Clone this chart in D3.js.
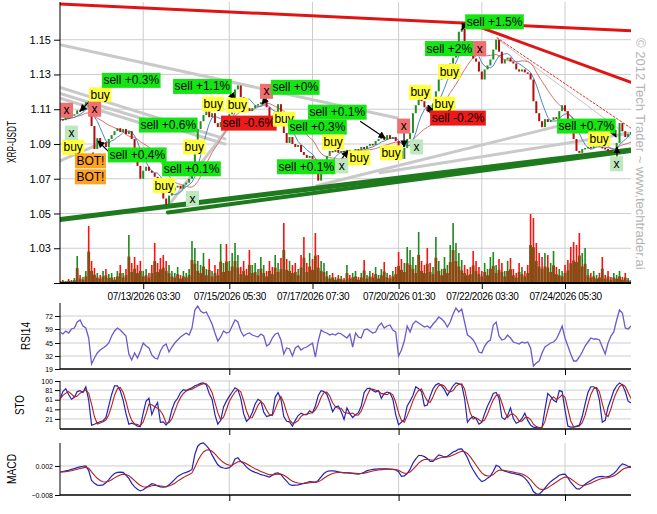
<!DOCTYPE html>
<html><head><meta charset="utf-8">
<script src="https://cdnjs.cloudflare.com/ajax/libs/d3/7.8.5/d3.min.js"></script>
<style>body{margin:0;background:#fff;} svg{display:block;font-family:"Liberation Sans",Arial,sans-serif;}</style>
</head><body><svg id="c" width="657" height="514"></svg>
<script>
// ---------- DATA ----------
const closes = [
1.1043,1.1037,1.1054,1.1049,1.1066,1.1071,1.1094,1.1089,1.1123,1.1140,
1.1111,1.1003,1.0871,1.0934,1.0900,1.0911,1.0883,1.0929,1.0951,1.0974,
1.0991,1.0969,1.0986,1.0957,1.0974,1.0929,1.0860,1.0774,1.0700,1.0746,
1.0769,1.0746,1.0734,1.0711,1.0689,1.0631,1.0586,1.0551,1.0603,1.0631,
1.0649,1.0660,1.0643,1.0666,1.0677,1.0700,1.0734,1.0860,1.0986,1.1031,
1.1066,1.1100,1.1054,1.1077,1.1020,1.0997,1.1026,1.1043,1.1031,1.1071,
1.1100,1.1214,1.1237,1.1169,1.1134,1.1106,1.1089,1.1106,1.1123,1.1129,
1.1140,1.1146,1.1111,1.1043,1.1009,1.1077,1.1129,1.1077,1.0963,1.0906,
1.0940,1.0900,1.0883,1.0894,1.0854,1.0837,1.0820,1.0831,1.0814,1.0746,
1.0689,1.0757,1.0791,1.0831,1.0860,1.0854,1.0866,1.0849,1.0860,1.0854,
1.0866,1.0854,1.0860,1.0871,1.0860,1.0883,1.0871,1.0889,1.0900,1.0894,
1.0917,1.0929,1.0940,1.0923,1.0951,1.0929,1.0940,1.0917,1.0860,1.0814,
1.0877,1.0929,1.0963,1.1077,1.1123,1.1163,1.1146,1.1111,1.1089,1.1077,
1.1134,1.1203,1.1271,1.1317,1.1329,1.1340,1.1363,1.1397,1.1466,1.1546,
1.1563,1.1489,1.1443,1.1409,1.1392,1.1374,1.1317,1.1271,1.1329,1.1352,
1.1386,1.1443,1.1500,1.1431,1.1363,1.1386,1.1397,1.1374,1.1363,1.1329,
1.1317,1.1329,1.1312,1.1306,1.1271,1.1146,1.1077,1.1031,1.0997,1.1043,
1.1026,1.1037,1.1054,1.1043,1.1089,1.1123,1.1089,1.1043,1.0997,1.0929,
1.0860,1.0849,1.0871,1.0877,1.0883,1.0877,1.0889,1.0894,1.0883,1.0877,
1.0871,1.0860,1.0854,1.0860,1.0906,1.1020,1.0974,1.0940,1.0957,1.0969];

const volumes = [
2,3,2,4,3,5,27,8,6,12, 57,22,15,10,8,12,14,9,10,6,
12,18,10,14,48,20,26,18,22,12, 14,10,18,40,20,25,28,22,18,12,
10,16,8,12,10,14,42,35,22,18, 30,14,24,12,18,14,39,20,39,22,
30,40,28,16,22,14,33,18,20,14, 26,18,12,22,16,28,20,25,60,24,
22,18,20,14,28,46,20,30,24,50, 28,22,20,12,8,10,6,8,7,5,
18,8,10,12,6,10,23,8,12,10, 16,8,14,21,10,8,12,16,31,24,
20,36,33,26,18,51,22,18,35,20, 16,46,22,14,26,18,38,60,40,30,
23,18,14,16,32,22,16,12,20,14, 26,31,18,24,20,12,22,25,14,10,
20,16,12,18,69,65,40,30,26,30, 28,20,32,16,14,12,18,23,36,41,
38,50,30,35,14,10,12,8,10,26, 8,12,6,10,8,12,6,10,5,3];

const rsi = [
56,54,57,55,59,60,66,68,62,60, 50,24,30,35,38,40,42,45,52,57,
60,58,55,52,34,28,35,30,37,45, 42,40,33,30,29,37,42,44,36,41,
45,48,51,53,55,53,60,78,82,77, 75,76,70,64,55,47,51,57,55,56,
62,68,66,57,52,54,55,53,52,51, 54,52,42,44,50,54,55,48,34,40,
39,32,40,42,38,40,41,43,45,31, 47,58,56,55,53,54,53,55,54,52,
50,54,41,55,51,50,58,59,57,55, 56,62,65,60,62,63,58,56,32,38,
47,62,56,64,67,65,63,61,62,60, 64,67,71,69,66,61,66,74,80,76,
79,66,53,51,48,43,36,35,42,46, 48,63,66,52,48,49,53,50,46,45,
44,46,45,46,40,22,25,27,35,41, 43,45,46,49,55,62,50,42,34,27,
27,31,36,42,46,50,49,49,48,41, 34,45,52,56,68,78,75,60,59,62];

const stoK = [
62,78,84,72,62,66,78,80,76,88, 60,8,10,13,15,17,24,48,72,90,
90,80,60,32,10,12,10,6,5,33, 58,64,30,45,55,14,15,8,16,40,
56,64,76,82,80,83,86,90,92,95, 96,92,74,62,30,10,18,46,58,68,
77,86,82,64,32,16,22,34,52,62, 58,35,26,28,30,66,76,62,26,16,
15,6,18,28,33,30,30,38,34,48, 70,80,78,72,56,36,46,48,36,20,
44,32,24,30,34,48,76,84,85,80, 77,80,64,74,77,75,62,30,9,14,
20,48,58,70,88,84,78,48,50,68, 84,92,95,90,82,70,80,90,96,94,
92,64,14,22,26,22,10,14,32,48, 60,74,76,64,24,20,28,44,22,12,
15,22,33,18,8,4,3,2,4,40, 74,68,60,56,80,78,40,6,4,4,
6,8,26,52,76,88,88,84,60,14, 18,46,62,80,90,96,92,78,58,54];

const macd = [
-0.0001,0.0001,0.0003,0.0005,0.0008,0.0011,0.0014,0.0017,0.0019,0.0020,
0.0004,-0.0030,-0.0040,-0.0046,-0.0047,-0.0045,-0.0038,-0.0027,-0.0015,-0.0006,
-0.0002,-0.0001,-0.0002,-0.0012,-0.0023,-0.0040,-0.0052,-0.0060,-0.0066,-0.0062,
-0.0055,-0.0048,-0.0041,-0.0043,-0.0049,-0.0052,-0.0053,-0.0052,-0.0045,-0.0036,
-0.0026,-0.0016,-0.0010,-0.0005,-0.0002,0.0002,0.0008,0.0060,0.0088,0.0097,
0.0099,0.0090,0.0078,0.0058,0.0040,0.0024,0.0016,0.0013,0.0012,0.0014,
0.0022,0.0044,0.0048,0.0036,0.0028,0.0016,0.0008,0.0002,-0.0002,-0.0005,
-0.0010,-0.0012,-0.0015,-0.0018,-0.0012,-0.0005,-0.0004,-0.0010,-0.0022,-0.0032,
-0.0044,-0.0047,-0.0046,-0.0045,-0.0043,-0.0040,-0.0037,-0.0034,-0.0035,-0.0036,
-0.0030,-0.0018,-0.0006,0.0001,0.0003,0.0003,0.0002,0.0000,-0.0002,-0.0004,
-0.0004,-0.0005,-0.0006,-0.0007,-0.0008,-0.0006,-0.0002,0.0004,0.0006,0.0008,
0.0009,0.0010,0.0010,0.0010,0.0010,0.0009,0.0008,0.0006,0.0000,-0.0016,
-0.0014,-0.0006,0.0008,0.0030,0.0044,0.0056,0.0056,0.0052,0.0046,0.0036,
0.0036,0.0048,0.0058,0.0055,0.0051,0.0053,0.0060,0.0068,0.0072,0.0078,
0.0079,0.0066,0.0048,0.0024,0.0006,-0.0010,-0.0024,-0.0034,-0.0030,-0.0022,
-0.0015,0.0002,0.0022,0.0018,0.0006,0.0002,-0.0001,-0.0004,-0.0006,-0.0008,
-0.0010,-0.0014,-0.0022,-0.0033,-0.0048,-0.0068,-0.0076,-0.0077,-0.0068,-0.0056,
-0.0044,-0.0034,-0.0027,-0.0020,-0.0012,-0.0009,-0.0008,-0.0020,-0.0036,-0.0048,
-0.0058,-0.0060,-0.0052,-0.0043,-0.0036,-0.0030,-0.0024,-0.0019,-0.0017,-0.0016,
-0.0018,-0.0017,-0.0012,-0.0006,0.0004,0.0018,0.0027,0.0024,0.0019,0.0017];

const timeTicks = [29, 59, 88, 118, 147, 176];
const timeLabels = ["07/13/2026 03:30","07/15/2026 05:30","07/17/2026 07:30","07/20/2026 01:30","07/22/2026 03:30","07/24/2026 05:30"];
const subTicks = [59, 118, 176];
const priceTicks = [1.01,1.03,1.05,1.07,1.09,1.11,1.13,1.15];
const rsiTicks = [19,32,45,59,72];
const stoTicks = [21,41,61,81,100];
const macdTicks = [-0.008,0.002];

// trend lines: [i1, p1, i2, p2, kind]
const trendLines = [
 [0,1.1471,117.5,1.1049,"gray"],
 [0,1.1226,57.5,1.0929,"gray"],
 [0,1.1191,57.5,1.0900,"gray"],
 [0,1.1163,34.9,1.0986,"gray"],
 [0,1.0803,12.2,1.0889,"gray"],
 [38.3,1.0557,61,1.1043,"gray"],
 [89.5,1.0660,177.8,1.1020,"gray"],
 [111.5,1.0734,199,1.0963,"gray"],
 [152.3,1.1506,199,1.0934,"thin"],
 [152.3,1.1511,199,1.0991,"dash"],
 [0,1.1706,199,1.1551,"red"],
 [142.2,1.1597,199,1.1254,"red"],
 [0,1.0466,199,1.0866,"green"],
 [37.6,1.0506,199,1.0860,"green2"]
];

// signal boxes: [text, kind, index(left), price(center)]
const signals = [
 ["x","xr",0,1.1094],["x","xg",1.7,1.0963],["buy","buy",0.7,1.0880],
 ["buy","buy",10.1,1.1183],["sell +0.3%","sp",14.6,1.1266],["x","xr",9.8,1.1100],
 ["BOT!","bot",5.2,1.0803],["BOT!","bot",5.2,1.0711],["sell +0.4%","sp",16.7,1.0837],
 ["sell +0.6%","sp",27.5,1.1009],["buy","buy",42.9,1.0883],["sell +0.1%","sp",35.6,1.0757],
 ["buy","buy",32.4,1.0660],["x","xg",43.9,1.0586],["sell +1.1%","sp",39.4,1.1231],
 ["buy","buy",49.5,1.1129],["buy","buy",57.9,1.1123],["sell -0.6%","sm",56.1,1.1020],
 ["x","xr",69.7,1.1203],["sell +0%","sp",73.5,1.1226],["buy","buy",74.2,1.1043],
 ["sell +0.3%","sp",79.5,1.0997],["sell +0.1%","sp",86.4,1.1083],["buy","buy",91.3,1.0911],
 ["sell +0.1%","sp",75.6,1.0769],["x","xg",95.9,1.0774],["buy","buy",100.4,1.0820],
 ["buy","buy",111.5,1.0849],["x","xr",117.5,1.1003],["x","xg",122,1.0883],
 ["buy","buy",121.6,1.1197],["buy","buy",131.8,1.1317],["buy","buy",130,1.1129],
 ["sell -0.2%","sm",129,1.1049],["sell +2%","sp",127.2,1.1449],["x","xr",144,1.1449],
 ["sell +1.5%","sp",141.2,1.1603],["sell +0.7%","sp",173.2,1.1003],["buy","buy",184,1.0929],
 ["x","xg",191.7,1.0786]
];

// arrows: [i1, p1, i2, p2]
const arrows = [
 [14.6,1.1220,7.0,1.1089],[11.5,1.0769,11.5,1.0849],[17.4,1.0849,13.2,1.0917],
 [59.3,1.1191,61,1.1157],[73.9,1.1203,70.4,1.1129],[104.6,1.1031,113.3,1.0934],
 [96.2,1.0774,100.4,1.0860],[119.9,1.0974,119.9,1.0883],[129.7,1.1071,128.3,1.1123],
 [141.5,1.1603,140.1,1.1557],[192.4,1.0986,193.8,1.0940],[194.1,1.0820,194.1,1.0883]
];

// ---------- CHART ----------
const svg = d3.select("#c");
svg.append("rect").attr("width",657).attr("height",514).attr("fill","#fff");
const X0 = 60, X1 = 631;
const x = d3.scaleLinear().domain([0, closes.length-1]).range([X0, X1]);
const yP = d3.scaleLinear().domain([1.01, 1.1717]).range([283, 2]);
const yV = d3.scaleLinear().domain([0, 80]).range([283, 203]);
const yR = d3.scaleLinear().domain([19, 85]).range([369, 303]);
const yS = d3.scaleLinear().domain([0, 100]).range([429, 381]);
const yM = d3.scaleLinear().domain([-0.008, 0.0099]).range([495, 443]);

const defs = svg.append("defs");
function clip(id, y0, y1){
  defs.append("clipPath").attr("id",id).append("rect").attr("x",X0).attr("y",y0).attr("width",X1-X0).attr("height",y1-y0);
}
clip("cm",2,283); clip("cr",300,369); clip("cs",378,429); clip("cmd",440,495);
defs.append("marker").attr("id","ah").attr("viewBox","0 0 10 10").attr("refX",9).attr("refY",5)
  .attr("markerWidth",6).attr("markerHeight",6).attr("orient","auto")
  .append("path").attr("d","M0,0L10,5L0,10z").attr("fill","#000");

const GRID = "#cdcdcd";
function sma(arr,n){ return arr.map((v,i)=>d3.mean(arr.slice(Math.max(0,i-n+1), i+1))); }
function ema(arr,a){ let p=arr[0]; return arr.map((v,i)=>{ p = i===0 ? v : p + a*(v-p); return p; }); }

// ---- main panel grid
const gm = svg.append("g");
gm.selectAll("line.h").data(priceTicks.slice(1)).join("line")
  .attr("x1",X0).attr("x2",X1).attr("y1",d=>yP(d)).attr("y2",d=>yP(d)).attr("stroke",GRID);
gm.selectAll("line.v").data(timeTicks).join("line")
  .attr("x1",d=>x(d)).attr("x2",d=>x(d)).attr("y1",2).attr("y2",283).attr("stroke",GRID);

// volume
const gv = svg.append("g").attr("clip-path","url(#cm)");
const upAt = i => i===0 || closes[i] >= closes[i-1];
gv.selectAll("rect.vc").data(volumes).join("rect")
  .attr("x",(d,i)=>x(i)-0.8).attr("width",1.6)
  .attr("y",d=>yV(d)).attr("height",d=>283-yV(d))
  .attr("fill",(d,i)=>upAt(i) ? "#1e8a1e" : "#ff1010");
gv.selectAll("rect.vb").data(volumes).join("rect")
  .attr("x",(d,i)=>x(i)-1.45).attr("width",2.9)
  .attr("y",d=>yV(d*0.55)).attr("height",d=>283-yV(d*0.55))
  .attr("fill","#8a4a14");

// trend lines
const gt = svg.append("g").attr("clip-path","url(#cm)");
const tStyle = {
  gray:{c:"#c9c9c9",w:3,d:null}, thin:{c:"#c4c4c4",w:1,d:null}, dash:{c:"#e03030",w:1,d:"2,2"},
  red:{c:"#e01414",w:3,d:null}, green:{c:"#1d7a1d",w:5,d:null}, green2:{c:"#1d7a1d",w:4,d:null}
};
gt.selectAll("line").data(trendLines).join("line")
  .attr("x1",d=>x(d[0])).attr("y1",d=>yP(d[1])).attr("x2",d=>x(d[2])).attr("y2",d=>yP(d[3]))
  .attr("stroke",d=>tStyle[d[4]].c).attr("stroke-width",d=>tStyle[d[4]].w)
  .attr("stroke-dasharray",d=>tStyle[d[4]].d).attr("stroke-linecap","round");

// moving averages
const gma = svg.append("g").attr("clip-path","url(#cm)").attr("fill","none");
const lineP = d3.line().x((d,i)=>x(i)).y(d=>yP(d));
gma.append("path").attr("d",lineP(sma(closes,14))).attr("stroke","#d87070").attr("stroke-width",1);
gma.append("path").attr("d",lineP(sma(closes,6))).attr("stroke","#4d86c8").attr("stroke-width",1);

// candles
const gc = svg.append("g").attr("clip-path","url(#cm)");
gc.selectAll("rect").data(closes).join("rect")
  .attr("x",(d,i)=>x(i)-1).attr("width",2)
  .attr("y",(d,i)=>yP(Math.max(d, i? closes[i-1] : d)))
  .attr("height",(d,i)=>Math.max(1.5, Math.abs(yP(d) - yP(i? closes[i-1] : d))))
  .attr("fill",(d,i)=>upAt(i) ? "#1f8f1f" : "#b40c0c");

// arrows
svg.append("g").selectAll("line").data(arrows).join("line")
  .attr("x1",d=>x(d[0])).attr("y1",d=>yP(d[1])).attr("x2",d=>x(d[2])).attr("y2",d=>yP(d[3]))
  .attr("stroke","#000").attr("stroke-width",1.2).attr("marker-end","url(#ah)");

// signal boxes
const boxCol = {buy:"#ffff3c", sp:"#14e614", sm:"#ee1a1a", xr:"#ee7070", xg:"#bde8bd", bot:"#ffa21e"};
const gs = svg.append("g");
signals.forEach(([t,k,i,p])=>{
  const g = gs.append("g");
  const tx = g.append("text").text(t).attr("font-size",12).attr("fill","#000");
  const w = Math.max(tx.node().getComputedTextLength()+3, 13);
  const bx = x(i), by = yP(p) - 7.5;
  g.insert("rect","text").attr("x",bx).attr("y",by).attr("width",w).attr("height",15).attr("fill",boxCol[k]);
  tx.attr("x",bx + w/2).attr("y",by + 11.5).attr("text-anchor","middle");
});

// main axes
const axL = svg.append("g").attr("transform",`translate(${X0},0)`)
  .call(d3.axisLeft(yP).tickValues(priceTicks).tickSize(6).tickPadding(3)
    .tickFormat(d=> d===1.01 ? "" : d3.format(".2f")(d)));
axL.select(".domain").remove();
axL.selectAll("text").attr("font-size",11).attr("font-family","Liberation Sans, Arial").attr("fill","#000");
const axB = svg.append("g").attr("transform","translate(0,283)")
  .call(d3.axisBottom(x).tickValues(timeTicks).tickSize(6).tickPadding(4).tickFormat((d,i)=>timeLabels[i]));
axB.select(".domain").remove();
axB.selectAll("text").attr("font-size",10).attr("letter-spacing","-0.35px").attr("font-family","Liberation Sans, Arial").attr("fill","#000");
svg.append("line").attr("x1",X0).attr("x2",X0).attr("y1",2).attr("y2",283).attr("stroke","#000");
svg.append("line").attr("x1",X0).attr("x2",X1).attr("y1",283).attr("y2",283).attr("stroke","#000").attr("stroke-width",2);

// ---- sub panels
function subPanel(y, ticks, fmt, top, bottom, clipId){
  const g = svg.append("g");
  g.selectAll("line.h").data(ticks.filter(t=>Math.abs(y(t)-bottom)>1)).join("line")
    .attr("x1",X0).attr("x2",X1).attr("y1",d=>y(d)).attr("y2",d=>y(d)).attr("stroke",GRID);
  g.selectAll("line.v").data(subTicks).join("line")
    .attr("x1",d=>x(d)).attr("x2",d=>x(d)).attr("y1",top).attr("y2",bottom).attr("stroke",GRID);
  const a = svg.append("g").attr("transform",`translate(${X0},0)`)
    .call(d3.axisLeft(y).tickValues(ticks).tickSize(5).tickPadding(2).tickFormat(fmt));
  a.select(".domain").remove();
  a.selectAll("text").attr("font-size",7).attr("font-family","Liberation Sans, Arial").attr("fill","#000");
  const b = svg.append("g").attr("transform",`translate(0,${bottom})`)
    .call(d3.axisBottom(x).tickValues(subTicks).tickSize(6).tickFormat(""));
  b.select(".domain").remove();
  svg.append("line").attr("x1",X0).attr("x2",X0).attr("y1",top).attr("y2",bottom).attr("stroke","#000");
  svg.append("line").attr("x1",X0).attr("x2",X1).attr("y1",bottom).attr("y2",bottom).attr("stroke","#000").attr("stroke-width",1.5);
  return svg.append("g").attr("clip-path",`url(#${clipId})`).attr("fill","none");
}
const gR = subPanel(yR, rsiTicks, d3.format("d"), 303, 369, "cr");
gR.append("path").attr("d", d3.line().x((d,i)=>x(i)).y(d=>yR(d))(rsi)).attr("stroke","#6a5acd").attr("stroke-width",1.3);

const gS2 = subPanel(yS, stoTicks, d3.format("d"), 381, 429, "cs");
gS2.append("path").attr("d", d3.line().x((d,i)=>x(i)).y(d=>yS(d))(stoK)).attr("stroke","#2424b4").attr("stroke-width",1.2);
gS2.append("path").attr("d", d3.line().x((d,i)=>x(i)).y(d=>yS(d))(sma(stoK,3))).attr("stroke","#b42020").attr("stroke-width",1.1);

const gMd = subPanel(yM, macdTicks, d3.format(".3f"), 443, 495, "cmd");
gMd.append("path").attr("d", d3.line().x((d,i)=>x(i)).y(d=>yM(d))(macd)).attr("stroke","#2424b4").attr("stroke-width",1.2);
gMd.append("path").attr("d", d3.line().x((d,i)=>x(i)).y(d=>yM(d))(ema(macd,0.3))).attr("stroke","#b42020").attr("stroke-width",1.1);

// axis titles
function title(t, bx, cy, len){
  svg.append("text").text(t).attr("transform",`translate(${bx},${cy}) rotate(-90)`)
    .attr("text-anchor","middle").attr("font-size",12).attr("fill","#000")
    .attr("textLength",len).attr("lengthAdjust","spacingAndGlyphs");
}
title("XRP-USDT", 16, 142, 42);
title("RSI14", 30, 336, 28);
title("STO", 24, 405, 20);
title("MACD", 16, 469, 30);

// watermark
svg.append("text").text("© 2012 Tech Trader ~ www.techtrader.ai")
  .attr("transform","translate(636,38) rotate(90)")
  .attr("font-size",13).attr("fill","#b4b4b4");
</script>
</body></html>
